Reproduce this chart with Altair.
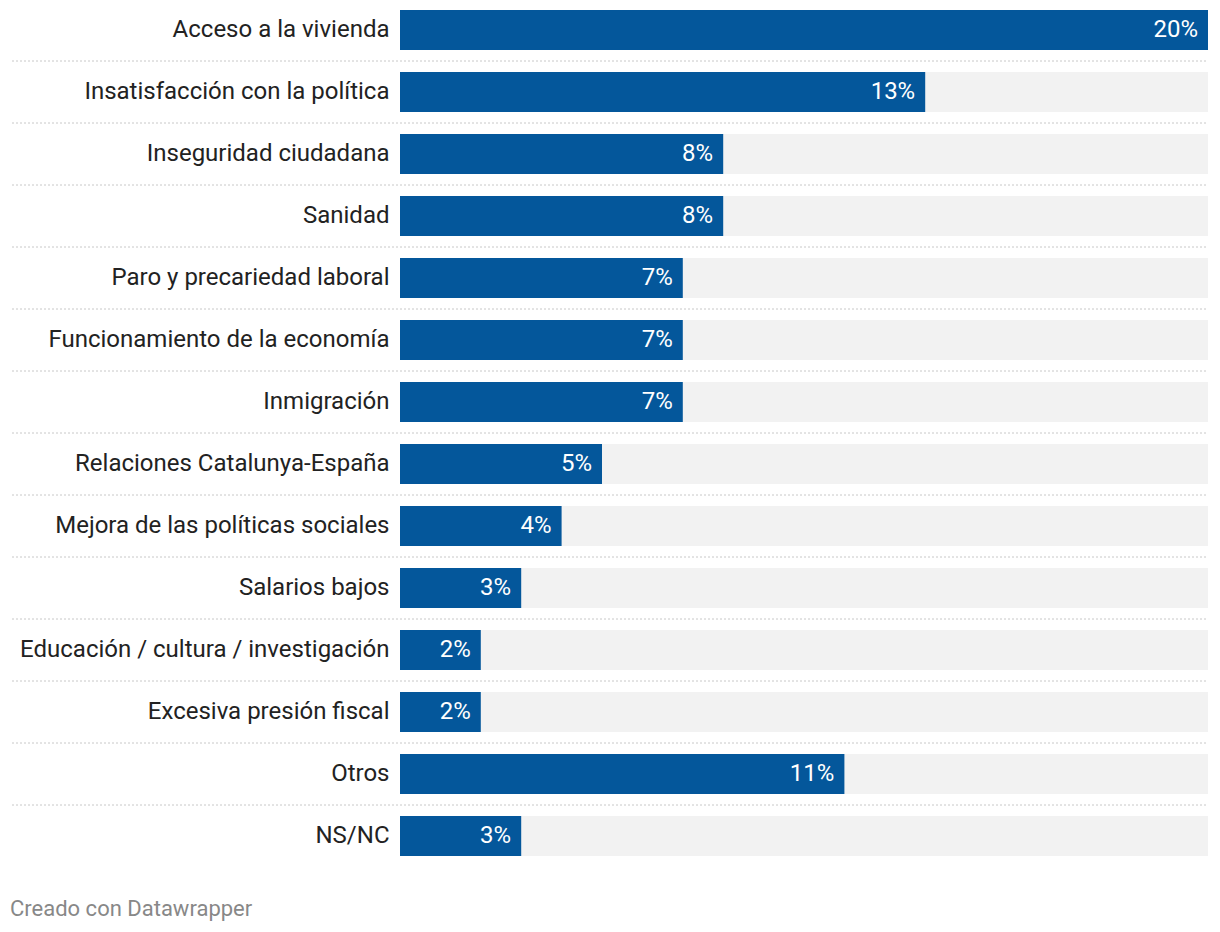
import altair as alt
import pandas as pd

categories = [
    "Acceso a la vivienda",
    "Insatisfacción con la política",
    "Inseguridad ciudadana",
    "Sanidad",
    "Paro y precariedad laboral",
    "Funcionamiento de la economía",
    "Inmigración",
    "Relaciones Catalunya-España",
    "Mejora de las políticas sociales",
    "Salarios bajos",
    "Educación / cultura / investigación",
    "Excesiva presión fiscal",
    "Otros",
    "NS/NC",
]
values = [20, 13, 8, 8, 7, 7, 7, 5, 4, 3, 2, 2, 11, 3]
footer = ["Creado con Datawrapper"]

df = pd.DataFrame({"cat": categories, "val": values})
df["label"] = df["val"].astype(str) + "%"
df["full"] = max(values)
sep = df.iloc[:-1]

FONT = "Roboto"
FS = 24
BLUE = "#04579b"

yscale = alt.Scale(domain=categories, paddingInner=22 / 62, paddingOuter=0)
xscale = alt.Scale(domain=[0, max(values)], nice=False, zero=True)

base = alt.Chart(df)

bg = base.mark_bar(color="#f2f2f2").encode(
    y=alt.Y("cat:N", scale=yscale, sort=categories,
            axis=alt.Axis(title=None, domain=False, ticks=False, labelFontSize=FS,
                          labelFont=FONT, labelColor="#222222", labelPadding=11,
                          labelLimit=400)),
    x=alt.X("full:Q", scale=xscale, axis=None),
)

bars = base.mark_bar(color=BLUE).encode(
    y=alt.Y("cat:N", scale=yscale, sort=categories),
    x=alt.X("val:Q", scale=xscale, axis=None),
)

text = base.mark_text(align="right", baseline="middle", dx=-10, color="white",
                      fontSize=FS, font=FONT).encode(
    y=alt.Y("cat:N", scale=yscale, sort=categories),
    x=alt.X("val:Q", scale=xscale),
    text="label:N",
)

rules = alt.Chart(sep).mark_rule(color="#c8c8c8", strokeDash=[2, 2], strokeWidth=1,
                                 yOffset=11).encode(
    y=alt.Y("cat:N", scale=yscale, sort=categories, bandPosition=1),
    x=alt.value(-388),
    x2=alt.value(808),
)

foot = alt.Chart(pd.DataFrame({"t": footer})).mark_text(
    align="left", baseline="middle", fontSize=22, font=FONT, color="#888888"
).encode(
    text="t:N",
    x=alt.value(-390),
    y=alt.value(899),
)

chart = alt.layer(bg, rules, bars, text, foot).properties(
    width=808,
    height=846,
    padding={"left": 392, "top": 2, "right": 4, "bottom": 70},
    autosize=alt.AutoSizeParams(type="none"),
    background="white",
).configure_view(stroke=None)

chart.save("out.html", embed_options={"renderer": "svg", "actions": False})
